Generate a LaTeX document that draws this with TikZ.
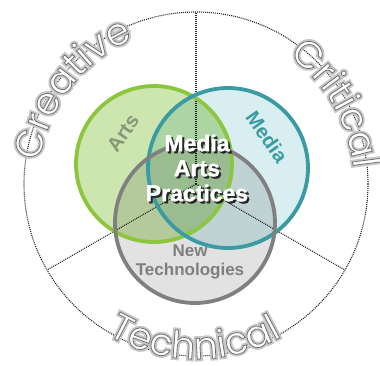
\documentclass[tikz,border=0pt]{standalone}
\usepackage{fontspec}
\setmainfont{Liberation Sans}
\newfontfamily\bigfont{Poppins}
\newfontfamily\heavyfont{Liberation Sans Bold}[FakeBold=1.6]
\usetikzlibrary{decorations.text}
\definecolor{artsfill}{HTML}{CDE5AE}
\definecolor{mediafill}{HTML}{D8EEF0}
\definecolor{techfill}{HTML}{E2E2E2}
\definecolor{artsline}{HTML}{8CC63E}
\definecolor{medialine}{HTML}{3A9BA3}
\definecolor{techline}{HTML}{808080}
\definecolor{artslab}{HTML}{86987A}
\definecolor{medialab}{HTML}{3A9BA0}
\definecolor{techlab}{HTML}{7F7F7F}
\newcommand\glowon{\special{pdf:literal 2 Tr 4.5 w}}
\newcommand\outlon{\special{pdf:literal 2 Tr 0.8 w 1 g}}
\tikzset{
  dotline/.style={draw=black!85, line width=1.1pt, dash pattern=on 1pt off 1pt},
  vennline/.style={line width=3.8pt},
  bigglow/.style={decoration={text along path, text align=center, text color=black!22,
      text={|\bigfont\fontsize{38}{38}\selectfont\glowon|#1}}, decorate},
  bigoutl/.style={decoration={text along path, text align=center, text color=black!55,
      text={|\bigfont\fontsize{38}{38}\selectfont\outlon|#1}}, decorate},
  centertext/.style={align=center, font=\heavyfont\fontsize{23}{25}\selectfont},
}
\begin{document}
\begin{tikzpicture}[x=1pt,y=1pt]
\useasboundingbox (0,0) rectangle (380,365);
\coordinate (O) at (196,181);
\coordinate (sT) at ([shift={(90:172)}]O);
\coordinate (sL) at ([shift={(210:172)}]O);
\coordinate (sR) at ([shift={(330:172)}]O);
% outer circle and spokes
\draw[dotline] (O) circle[radius=172];
\draw[dotline] (O) -- (sT);
\draw[dotline] (O) -- (sL);
\draw[dotline] (O) -- (sR);
% venn fills
\begin{scope}[blend mode=multiply]
\fill[artsfill] (154,201) circle[radius=78];
\fill[mediafill] (228,197) circle[radius=80];
\fill[techfill] (195,142) circle[radius=80];
\end{scope}
\draw[vennline, artsline] (154,201) circle[radius=78];
\draw[vennline, medialine] (228,197) circle[radius=80];
\draw[vennline, techline] (195,142) circle[radius=80];
% labels
\node[rotate=55, text=artslab, font=\bfseries\fontsize{20}{20}\selectfont] (artsL) at (123,232) {Arts};
\node[rotate=-55, text=medialab, font=\bfseries\fontsize{20}{20}\selectfont] (mediaL) at (267,228) {Media};
\node[align=center, text=techlab, font=\bfseries\fontsize{17}{19}\selectfont] (techL) at (190,103) {New\\Technologies};
\node[centertext, text=black!85] (mapS) at (199,195) {Media\\Arts\\Practices};
\node[centertext, text=white] (map) at (197,197) {Media\\Arts\\Practices};
% big words
\path[bigglow={Creative}] ([shift={(187.5:158)}]O) arc[start angle=187.5, end angle=97.5, radius=158];
\path[bigoutl={Creative}] ([shift={(187.5:158)}]O) arc[start angle=187.5, end angle=97.5, radius=158];
\path[bigglow={Critical}] ([shift={(75:158)}]O) arc[start angle=75, end angle=-15, radius=158];
\path[bigoutl={Critical}] ([shift={(75:158)}]O) arc[start angle=75, end angle=-15, radius=158];
\path[bigglow={Technical}] ([shift={(224.5:175)}]O) arc[start angle=224.5, end angle=314.5, radius=175];
\path[bigoutl={Technical}] ([shift={(224.5:175)}]O) arc[start angle=224.5, end angle=314.5, radius=175];
\end{tikzpicture}
\end{document}
